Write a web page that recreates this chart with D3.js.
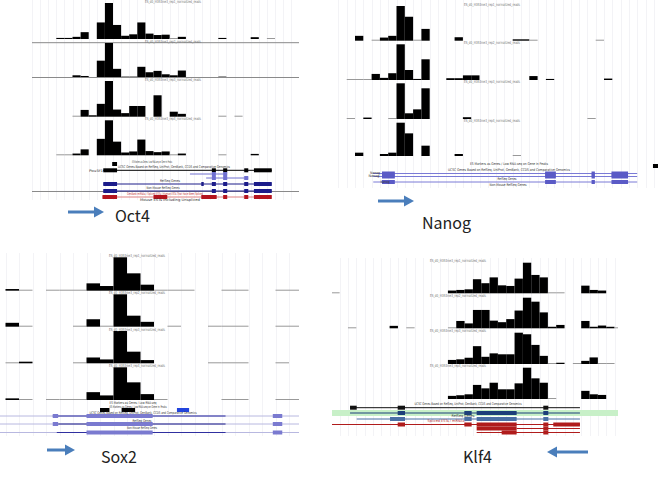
<!DOCTYPE html>
<html><head><meta charset="utf-8">
<script src="https://cdn.jsdelivr.net/npm/d3@7"></script>
<style>body{margin:0;background:#fff}svg{display:block}</style>
</head><body>
<svg id="c" width="658" height="477"></svg>
<script>
// ---------------- DATA ----------------
const geneNames = ["Oct4", "Nanog", "Sox2", "Klf4"];
const trackNames = [
  "ES_d0_H3K4me3_rep1_normalized_reads",
  "ES_d0_H3K4me3_rep2_normalized_reads",
  "ES_d0_H3K4me3_rep3_normalized_reads",
  "ES_d0_H3K4me3_rep4_normalized_reads"
];
// read-coverage per genomic bin, % of track maximum
const oct4Tracks = [
  [0,0,0,3,3,6,19,0,46,100,39,9,13,46,15,11,12,1,6,0,0,0,0,3,0,0,0,5,0,1],
  [0,0,0,0,0,5,3,0,48,100,24,2,2,30,14,18,8,5,19,0,0,0,0,1,0,0,0,0,0,0],
  [0,0,0,0,0,1,19,4,36,100,20,10,30,30,0,60,0,14,8,0,0,0,0,2,0,2,0,0,0,0],
  [0,0,0,2,2,5,17,0,47,100,39,8,11,45,12,9,11,1,5,0,0,0,0,2,0,0,0,4,0,0]
];
const nanogTracks = [
  [0,0,14,0,2,9,14,100,69,1,34,0,0,0,10,0,0,0,0,0,0,4,4,1,0,0,0,0,0,0,0,1,0],
  [0,1,1,1,17,6,19,100,28,3,58,0,0,5,5,13,13,0,0,0,0,0,0,11,0,3,0,0,0,0,0,0,4],
  [0,1,0,4,0,0,1,100,16,27,86,0,0,0,0,5,0,0,0,0,0,0,0,0,0,0,0,0,0,0,1,0,0],
  [0,0,10,0,0,6,10,100,68,0,31,0,0,0,6,0,0,0,0,0,0,1,0,0,0,0,0,0,0,0,0,0,0]
];
const sox2Tracks = [
  [5,1.5,0,1,1,1,22,14,100,52,18,1,1,1,0,0,1,1,0,0,2,2],
  [12,2,0,0,0,1,23,3,100,34,15,0,1,0,0,2,1,1,0,0,3,1],
  [2,5,0,0,0,1,18,12,100,36,10,0,0,0,0,1,1,1,0,0,3,0],
  [5,3,0,1,1,1,24,14,100,54,18,1,0,0,0,0,1,1,0,0,2,1]
];
const klf4Tracks = [
  [1,0,0,0,0,0,0,0,0,0,0,0,0,0,9,11,13,46,33,52,26,24,48,100,60,52,2,1,0,0,25,11,9,0,0],
  [0,0,1,0,0,0,0,8,0,1,0,0,0,0,1,24,16,60,60,25,20,30,58,100,87,52,5,11,0,0,24,5,9,5,2],
  [0,0,0,0,0,0,0,0,0,0,0,0,0,0,13,15,20,57,23,34,31,31,100,95,61,26,1,4,0,1,10,21,1,1,0],
  [0,0,0,0,0,0,0,0,0,0,0,0,0,0,10,12,15,45,34,52,31,31,50,100,66,52,1,0,0,0,26,15,13,0,0]
];
// gene models in genomic-bin units: intron line span + exon blocks
const oct4Genes = [
  {line: null, exons: [[9.9,10.5]]},
  {line: [8.8,29.6], exons: [[8.8,10.5],[22.2,22.7],[23.6,24.1],[26.2,26.7],[27.4,29.6]]},
  {line: [19.5,24.1], exons: [[22.2,22.7],[23.6,24.1]]},
  {line: [21.5,26.7], exons: [[22.2,22.7],[23.6,24.1],[26.2,26.7]]},
  {line: [8.8,29.6], exons: [[8.8,10.5],[20.9,21.2],[22.2,22.7],[23.6,24.1],[26.2,26.7],[27.4,29.6]]},
  {line: [8.8,29.6], exons: [[8.8,10.5],[22.2,22.7],[23.6,24.1],[26.2,26.7],[27.4,29.6]]},
  {line: [8.7,29.6], exons: [[8.7,10.5],[15,16.7],[20.9,22.8],[23.6,24.1],[26.2,26.7],[27.4,29.6]]}
];
const nanogGenes = [
  {line: [4.2,36], exons: [[5.25,6.8],[24.9,26.2],[30.5,30.9],[32.9,34.9]]},
  {line: [4.2,36], exons: [[5.25,6.8],[24.9,26.2],[30.5,30.9],[32.9,34.9]]},
  {line: [4.2,36], exons: [[5.25,6.8],[24.9,26.2],[30.5,30.9],[32.9,34.9]]},
  {line: null, exons: [[37.9,38.6]]}
];
const sox2Genes = [
  {line: null, exons: [[7.0,7.7],[8.6,9.6]]},
  {line: null, exons: [[12.7,13.6]]},
  {line: [-0.5,21.8], exons: []},
  {line: [-0.5,21.8], exons: []},
  {line: [-0.5,21.8], exons: []},
  {line: [3.5,16.3], exons: [[3.5,3.9],[6.0,10.9],[19.8,20.5]]},
  {line: [3.9,16.3], exons: [[3.5,3.9],[6.0,10.9],[19.8,20.5]]},
  {line: [3.8,16.3], exons: [[6.0,10.9],[19.8,20.5]]}
];
const klf4Genes = [
  {line: [2.25,29.85], exons: [[2.25,3.05],[7.97,8.85],[25.45,26.05]]},
  {line: [2.25,29.85], exons: [[7.97,8.85],[15.97,16.85],[17.45,22.25],[25.45,26.05]]},
  {line: [3.05,29.85], exons: [[7.05,8.85],[15.97,16.85],[17.45,22.25],[25.45,26.05]]},
  {line: [0.05,29.85], exons: [[7.97,8.85],[15.97,16.85],[17.45,22.25],[25.45,26.05],[26.65,29.85]]},
  {line: [22.25,29.85], exons: [[17.45,22.25],[25.45,26.05]]},
  {line: [17.45,29.85], exons: [[20.45,22.25],[25.45,26.05]]}
];
const oct4AnnoText = ["ES Markers as Genes / Low RNA-seq on Gene in Peaks",
  "UCSC Genes Based on RefSeq, UniProt, GenBank, CCDS and Comparative Genomics",
  "RefSeq Genes", "Non-Mouse RefSeq Genes",
  "GenBank mRNAs / Spliced ESTs / Human ESTs That Have Been Spliced",
  "Mouse ESTs Including Unspliced", "Pou5f1"];
const nanogAnnoText = ["ES Markers as Genes / Low RNA-seq on Gene in Peaks",
  "UCSC Genes Based on RefSeq, UniProt, GenBank, CCDS and Comparative Genomics",
  "RefSeq Genes", "Non-Mouse RefSeq Genes", "Nanog", "Nanog", "Nanog"];
const sox2AnnoText = ["ES Markers as Genes / Low RNA-seq",
  "ES Markers as Genes / Low RNA-seq on Gene in Peaks",
  "UCSC Genes Based on RefSeq, UniProt, GenBank, CCDS and Comparative Genomics",
  "RefSeq Genes", "Non-Mouse RefSeq Genes"];
const klf4AnnoText = ["UCSC Genes Based on RefSeq, UniProt, GenBank, CCDS and Comparative Genomics",
  "RefSeq Genes", "Spliced ESTs / mRNAs"];

// ---------------- LAYOUT / STYLE ----------------
const layout = {
  Oct4: {x0:32, x1:299, origin:32, bw:8.1, gridY:[0,200], labelCx:173,
    tracks:[[3,39],[43,77],[81,116.7],[120.3,155.3]],
    seps:[42.7,77.5,191.5],
    rows:[164,170.3,174,178,184,191,197],
    rowColors:["#000","#000","#7070d0","#7070d0","#1c1c8a","#1c1c8a","#b3141e"],
    lineColors:["#000","#000","#7070d0","#7070d0","#1c1c8a","#1c1c8a","#dd8080"],
    texts:[[152,162.5,40,"#333"],[174,167.5,112,"#333"],[170,181.5,20,"#333"],[163,188.5,33,"#333"],[165,194.5,76,"#c03030"],[170,200.5,60,"#333"],[96,171.5,14,"#333"]],
    name:{x:115,y:222}, arrow:{from:68,to:104,y:212}},
  Nanog: {x0:335, x1:658, origin:338.4, bw:8.3, gridY:[0,188], labelCx:492,
    tracks:[[6,40.7],[44.3,80],[83.3,119],[122.7,156]],
    seps:[],
    rows:[173.5,176.5,182,166],
    rowColors:["#5a5ac6","#5a5ac6","#5a5ac6","#000"],
    lineColors:["#7a7ad6","#7a7ad6","#7a7ad6","#000"],
    texts:[[509,164.5,78,"#333"],[509,170.5,122,"#333"],[507,179.5,19,"#333"],[508,185.5,37,"#333"],[375,173.5,10,"#333"],[374,177,11,"#333"],[385,182.5,9,"#333"]],
    name:{x:422,y:229}, arrow:{from:378,to:414,y:201}},
  Sox2: {x0:0, x1:299, origin:5.5, bw:13.5, gridY:[253,436], labelCx:137,
    tracks:[[257.3,290.7],[294.3,326.7],[331,363.3],[367.3,400]],
    seps:[],
    rows:[410,410,416,424,432.5,416,424,432.5],
    rowColors:["#000","#2244dd","#aab","#aab","#aab","#7a7ad0","#7a7ad0","#7a7ad0"],
    lineColors:["#000","#2244dd","#b8b8e0","#b8b8e0","#b8b8e0","#2a2aa0","#20208a","#3030a0"],
    texts:[[133,403.5,47,"#333"],[138,407.5,57,"#333"],[143,413.5,107,"#333"],[142,421.5,19,"#333"],[142,428.5,30,"#333"]],
    name:{x:101,y:463}, arrow:{from:47,to:75,y:450}},
  Klf4: {x0:332, x1:618, origin:331.3, bw:8.33, gridY:[258,436], labelCx:458,
    tracks:[[262.7,293.3],[297.7,328.3],[332.7,364],[367.7,399]],
    seps:[],
    band:[410,416,"#c8f0c8"],
    rows:[407.7,413,419,424.5,428.5,432.5],
    rowColors:["#111","#1d3f7a","#4a6fa5","#b01c1c","#b01c1c","#b01c1c"],
    lineColors:["#111","#1d3f7a","#4a6fa5","#b01c1c","#b01c1c","#b01c1c"],
    texts:[[468,405.3,107,"#333"],[463,417,23,"#333"],[446,422,37,"#b03030"]],
    name:{x:463,y:463}, arrow:{from:588,to:547,y:452}}
};

const svg = d3.select("#c");
const defs = svg.append("defs");
const ARROW = "#4a7ebb";

function drawPanel(name, tracks, genes, annoText, L) {
  const x = d3.scaleLinear().domain([0, 1]).range([L.origin, L.origin + L.bw]);
  const clipId = "clip" + name;
  defs.append("clipPath").attr("id", clipId).append("rect")
    .attr("x", L.x0).attr("y", L.gridY[0]).attr("width", L.x1 - L.x0).attr("height", L.gridY[1] - L.gridY[0]);
  const g = svg.append("g").attr("clip-path", `url(#${clipId})`);

  // vertical grid
  const b0 = Math.floor(x.invert(L.x0)), b1 = Math.ceil(x.invert(L.x1));
  g.append("g").selectAll("line").data(d3.range(b0, b1 + 1)).join("line")
    .attr("x1", d => Math.round(x(d)) + 0.5).attr("x2", d => Math.round(x(d)) + 0.5)
    .attr("y1", L.gridY[0]).attr("y2", L.gridY[1])
    .attr("stroke", "#f3f3f6").attr("stroke-width", 1);

  if (L.band) {
    g.append("rect").attr("x", L.x0).attr("width", L.x1 - L.x0)
      .attr("y", L.band[0]).attr("height", L.band[1] - L.band[0]).attr("fill", L.band[2]);
  }

  // separators
  g.append("g").selectAll("line").data(L.seps).join("line")
    .attr("x1", L.x0).attr("x2", L.x1).attr("y1", d => d).attr("y2", d => d)
    .attr("stroke", "#8a8a8a").attr("stroke-width", 1);

  // coverage tracks
  tracks.forEach((vals, ti) => {
    const [top, base] = L.tracks[ti];
    const y = d3.scaleLinear().domain([0, 100]).range([base, top]);
    const data = vals.map((v, i) => ({i, v})).filter(d => d.v > 0);
    g.append("g").selectAll("rect").data(data).join("rect")
      .attr("x", d => x(d.i)).attr("width", d => x(d.i + 1) - x(d.i))
      .attr("y", d => Math.min(y(d.v), base - 1))
      .attr("height", d => Math.max(y(0) - y(d.v), 1))
      .attr("fill", d => (y(0) - y(d.v)) < 1 ? "#999" : "#000");
    g.append("text").attr("x", L.labelCx).attr("y", top - 0.3)
      .attr("text-anchor", "middle").attr("font-size", 4).attr("font-family", "DejaVu Sans")
      .attr("fill", "#777").attr("textLength", 56).attr("lengthAdjust", "spacingAndGlyphs")
      .text(trackNames[ti]);
  });

  // gene models
  genes.forEach((gm, ri) => {
    const yy = L.rows[ri];
    if (gm.line) {
      g.append("line").attr("x1", x(gm.line[0])).attr("x2", x(gm.line[1]))
        .attr("y1", yy).attr("y2", yy).attr("stroke", L.lineColors[ri]).attr("stroke-width", 1);
    }
    g.append("g").selectAll("rect").data(gm.exons).join("rect")
      .attr("x", d => x(d[0])).attr("width", d => Math.max(x(d[1]) - x(d[0]), 1))
      .attr("y", yy - 2).attr("height", 4).attr("fill", L.rowColors[ri]);
  });

  // annotation text
  annoText.forEach((t, k) => {
    const p = L.texts[k];
    if (!p) return;
    svg.append("text").attr("x", p[0]).attr("y", p[1]).attr("text-anchor", "middle")
      .attr("font-size", 3.6).attr("font-family", "DejaVu Sans").attr("fill", p[3])
      .attr("textLength", p[2]).attr("lengthAdjust", "spacingAndGlyphs").text(t);
  });

  // gene name + direction arrow
  svg.append("text").attr("x", L.name.x).attr("y", L.name.y)
    .attr("font-family", "'Malgun Gothic','Noto Sans CJK KR','Noto Sans',sans-serif")
    .attr("font-size", 16).attr("fill", "#222").text(name);
  const a = L.arrow, dir = Math.sign(a.to - a.from);
  svg.append("line").attr("x1", a.from).attr("x2", a.to - dir * 7).attr("y1", a.y).attr("y2", a.y)
    .attr("stroke", ARROW).attr("stroke-width", 3);
  svg.append("path").attr("d", `M${a.to},${a.y} L${a.to - dir * 10},${a.y - 5.5} L${a.to - dir * 10},${a.y + 5.5} Z`)
    .attr("fill", ARROW);
}

drawPanel(geneNames[0], oct4Tracks, oct4Genes, oct4AnnoText, layout.Oct4);
drawPanel(geneNames[1], nanogTracks, nanogGenes, nanogAnnoText, layout.Nanog);
drawPanel(geneNames[2], sox2Tracks, sox2Genes, sox2AnnoText, layout.Sox2);
drawPanel(geneNames[3], klf4Tracks, klf4Genes, klf4AnnoText, layout.Klf4);
</script>
</body></html>
